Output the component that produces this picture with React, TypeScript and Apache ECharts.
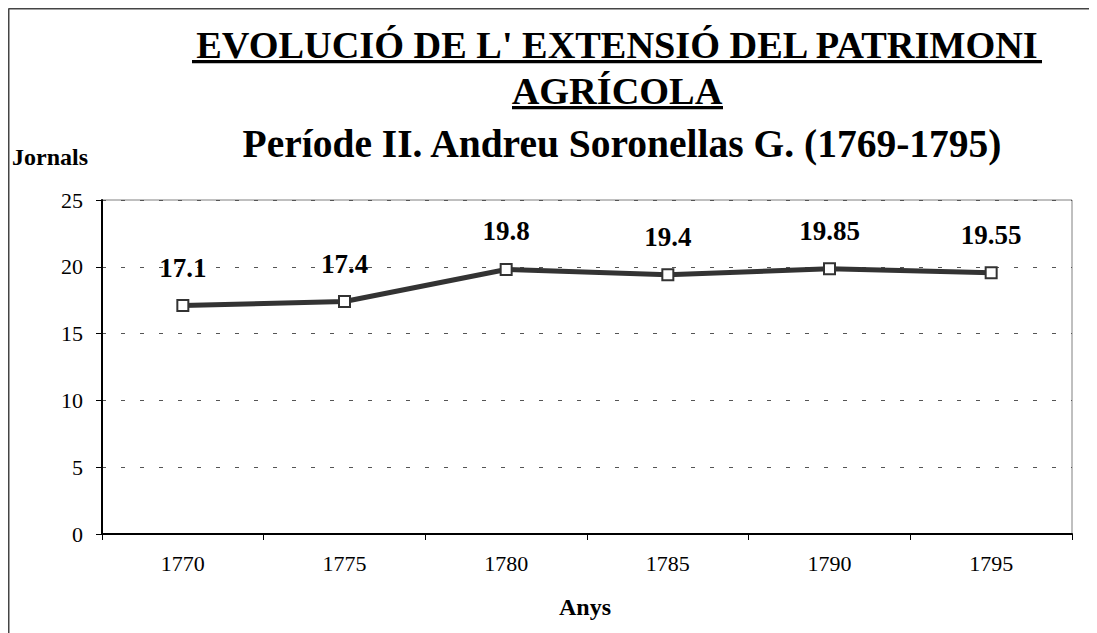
import React, { useEffect, useRef } from "react";
import * as echarts from "echarts";

const categories = ["1770", "1775", "1780", "1785", "1790", "1795"];
const values = [17.1, 17.4, 19.8, 19.4, 19.85, 19.55];
const titleLine1 = "EVOLUCIÓ DE L' EXTENSIÓ DEL PATRIMONI";
const titleLine2 = "AGRÍCOLA";
const subtitle = "Període II. Andreu Soronellas G. (1769-1795)";
const yAxisTitle = "Jornals";
const xAxisTitle = "Anys";

const FONT = "'Liberation Serif', 'Times New Roman', serif";

export default function App() {
  const ref = useRef<HTMLDivElement>(null);
  useEffect(() => {
    if (!ref.current) return;
    const chart = echarts.init(ref.current, null, { renderer: "svg" });
    const txt = (text: string, x: number, y: number, size: number, align: string) => ({
      type: "text",
      x,
      y,
      style: {
        text,
        fontSize: size,
        fontWeight: "bold",
        fontFamily: FONT,
        fill: "#000",
        align,
        textAlign: align,
        verticalAlign: "middle",
        textVerticalAlign: "middle",
      },
    });
    chart.setOption({
      animation: false,
      backgroundColor: "#ffffff",
      grid: {
        left: 94,
        top: 192,
        width: 970,
        height: 334,
        show: true,
        borderColor: "#808080",
        borderWidth: 1,
        backgroundColor: "transparent",
      },
      xAxis: {
        type: "category",
        data: categories,
        boundaryGap: true,
        axisLine: { show: true, lineStyle: { color: "#000", width: 2 } },
        axisTick: { show: true, length: 6, alignWithLabel: false, lineStyle: { color: "#000", width: 1 } },
        axisLabel: { color: "#000", fontFamily: FONT, fontSize: 22, margin: 18 },
        splitLine: { show: false },
      },
      yAxis: {
        type: "value",
        min: 0,
        max: 25,
        interval: 5,
        axisLine: { show: true, lineStyle: { color: "#000", width: 2 } },
        axisTick: { show: true, length: 6, lineStyle: { color: "#000", width: 1 } },
        axisLabel: { color: "#000", fontFamily: FONT, fontSize: 22, margin: 19 },
        splitLine: { show: true, lineStyle: { color: "#555", width: 1, type: [4, 15] } },
      },
      series: [
        {
          type: "line",
          data: values,
          symbol: "rect",
          symbolSize: 11,
          lineStyle: { color: "#333333", width: 5 },
          itemStyle: { color: "#ffffff", borderColor: "#333333", borderWidth: 2 },
          label: {
            show: true,
            position: "top",
            distance: 18,
            color: "#000",
            fontFamily: FONT,
            fontSize: 27,
            fontWeight: "bold",
          },
        },
      ],
      graphic: [
        { type: "line", shape: { x1: 0.5, y1: 0.5, x2: 1100, y2: 0.5 }, style: { stroke: "#444", lineWidth: 2 } },
        { type: "line", shape: { x1: 0.5, y1: 0.5, x2: 0.5, y2: 640 }, style: { stroke: "#444", lineWidth: 2 } },
        txt(titleLine1, 609, 36.5, 38.3, "center"),
        { type: "rect", shape: { x: 184, y: 52, width: 850, height: 3.3 }, style: { fill: "#000" } },
        txt(titleLine2, 609, 82.5, 38.3, "center"),
        { type: "rect", shape: { x: 504, y: 98, width: 211, height: 3.3 }, style: { fill: "#000" } },
        txt(subtitle, 614, 136, 39.5, "center"),
        txt(yAxisTitle, 4, 149, 24, "left"),
        txt(xAxisTitle, 577, 599, 24, "center"),
      ],
    });
    return () => chart.dispose();
  }, []);
  return <div ref={ref} style={{ width: 1089, height: 625 }} />;
}
